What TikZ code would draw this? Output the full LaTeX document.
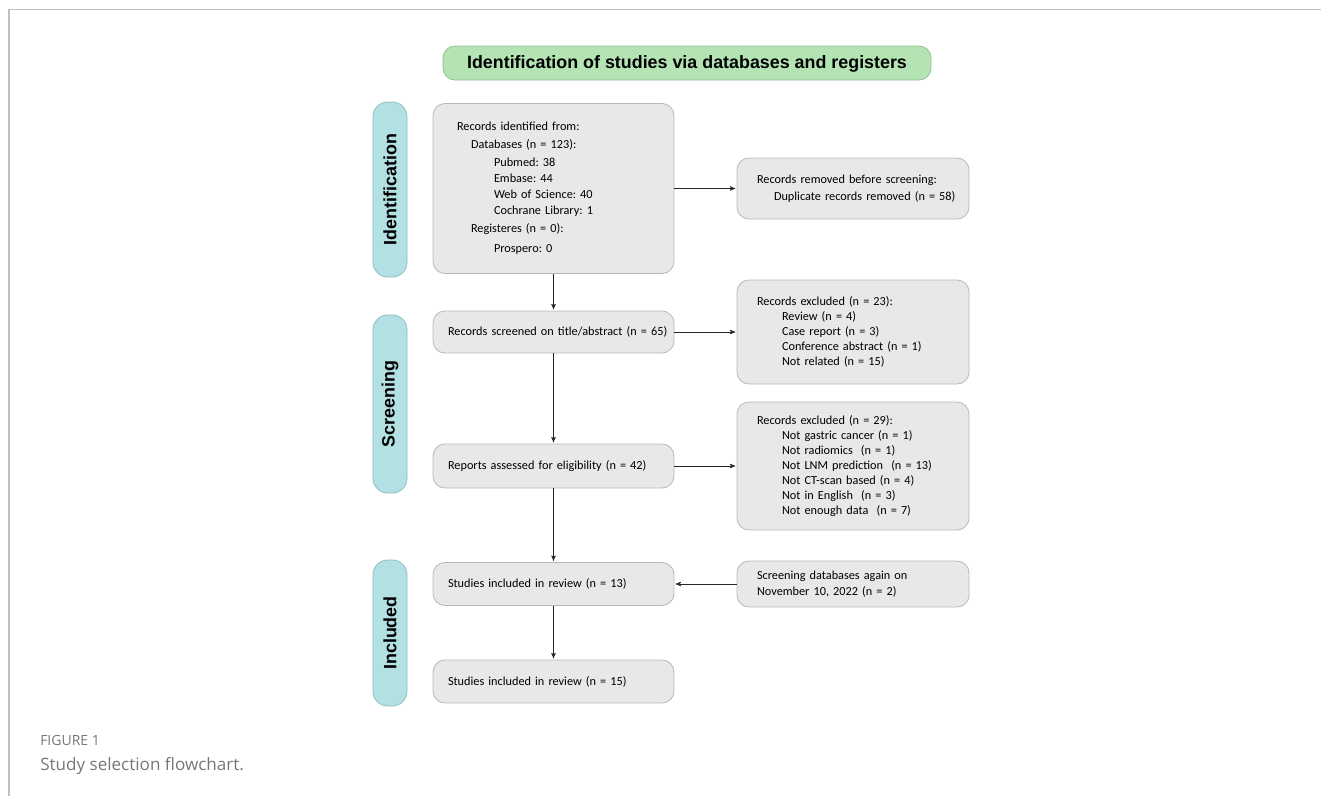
\documentclass[tikz,border=0pt]{standalone}
\usepackage{fontspec}
\setmainfont{Carlito}
\newfontfamily\headfont{Liberation Sans}
\newfontfamily\capfont{Open Sans}
\usepackage{tikz}
\usetikzlibrary{arrows,calc,positioning}

\definecolor{boxfill}{HTML}{E8E8E8}
\definecolor{boxline}{HTML}{B8B8B8}
\definecolor{tealfill}{HTML}{B3E0E2}
\definecolor{tealline}{HTML}{8FBFC0}
\definecolor{greenfill}{HTML}{B4E3B4}
\definecolor{greenline}{HTML}{93BF93}
\definecolor{capgray}{HTML}{777777}

\tikzset{
  mainbox/.style={draw=boxline, fill=boxfill, rounded corners=9pt, line width=0.6pt,
    minimum width=180.75pt, inner xsep=11.25pt, text width=158.25pt, align=left,
    font=\fontsize{9.2}{12}\selectfont},
  sidebox/.style={draw=boxline, fill=boxfill, rounded corners=9pt, line width=0.6pt,
    minimum width=174pt, inner xsep=15pt, text width=144pt, align=left,
    font=\fontsize{9.2}{11.25}\selectfont},
  stagebox/.style={draw=tealline, fill=tealfill, rounded corners=11pt, line width=0.6pt,
    rotate=90, minimum height=25.5pt, font=\headfont\bfseries\fontsize{13.4}{16}\selectfont},
  titlebox/.style={draw=greenline, fill=greenfill, rounded corners=9pt, line width=0.6pt,
    minimum width=366pt, minimum height=25.5pt, text depth=1pt,
    font=\headfont\bfseries\fontsize{13.4}{16}\selectfont}
}
\frenchspacing

\begin{document}
\begin{tikzpicture}[x=0.75pt,y=-0.75pt,>=stealth',shorten >=1pt]
\useasboundingbox (0,0) rectangle (1322,796);
% frame
\draw[black!25,line width=0.8pt] (9,796) -- (9,9.5) -- (1322,9.5);

\node[titlebox] (title) at (687,63) {Identification of studies via databases and registers};

% stages
\node[stagebox,minimum width=131.25pt] (s_id) at (390,189.5) {Identification};
\node[stagebox,minimum width=133.5pt] (s_scr) at (390,404) {Screening};
\node[stagebox,minimum width=109.5pt] (s_inc) at (390,633) {Included};

% main column
\node[mainbox,minimum height=127.5pt,inner xsep=18pt,text width=144.75pt] (ident) at (553.5,188.5) {Records identified from:\\[1.5pt]
\hspace*{10.5pt}Databases (n = 123):\\[1.5pt]
\hspace*{27.75pt}Pubmed: 38\\
\hspace*{27.75pt}Embase: 44\\
\hspace*{27.75pt}Web of Science: 40\\
\hspace*{27.75pt}Cochrane Library: 1\\[1.5pt]
\hspace*{10.5pt}Registeres (n = 0):\\[3pt]
\hspace*{27.75pt}Prospero: 0};
\node[mainbox,minimum height=31.5pt] (screened) at (553.5,332) {\mbox{Records screened on title/abstract (n = 65)}};
\node[mainbox,minimum height=33pt] (assessed) at (553.5,466) {Reports assessed for eligibility (n = 42)};
\node[mainbox,minimum height=32.25pt] (incl_a) at (553.5,584) {Studies included in review (n = 13)};
\node[mainbox,minimum height=32.25pt] (incl_b) at (553.5,681.5) {Studies included in review (n = 15)};

% side column
\node[sidebox,minimum height=45.75pt,font=\fontsize{9.2}{12.75}\selectfont] (removed) at (853,188.5) {Records removed before screening:\\
\hspace*{12.75pt}\mbox{Duplicate records removed (n = 58)}};
\node[sidebox,minimum height=78pt] (excl_a) at (853,332) {Records excluded (n = 23):\\
\hspace*{18.75pt}Review (n = 4)\\
\hspace*{18.75pt}Case report (n = 3)\\
\hspace*{18.75pt}Conference abstract (n = 1)\\
\hspace*{18.75pt}Not related (n = 15)};
\node[sidebox,minimum height=96pt] (excl_b) at (853,466) {Records excluded (n = 29):\\
\hspace*{18.75pt}Not gastric cancer (n = 1)\\
\hspace*{18.75pt}Not radiomics~ (n = 1)\\
\hspace*{18.75pt}Not LNM prediction~ (n = 13)\\
\hspace*{18.75pt}Not CT-scan based (n = 4)\\
\hspace*{18.75pt}Not in English~ (n = 3)\\
\hspace*{18.75pt}Not enough data~ (n = 7)};
\node[sidebox,minimum height=34.5pt,font=\fontsize{9.2}{12}\selectfont] (again) at (853,584) {Screening databases again on\\
November 10, 2022 (n = 2)};

\path[->,color=black!85,line width=0.5pt]
  (ident) edge (screened)
  (screened) edge (assessed)
  (assessed) edge (incl_a)
  (incl_a) edge (incl_b)
  (ident.east) edge (ident.east -| removed.west)
  (screened.east) edge (screened.east -| excl_a.west)
  (assessed.east) edge (assessed.east -| excl_b.west)
  (again.west) edge (incl_a.east);

% caption
\node[anchor=west,inner sep=0pt,text=capgray,font=\capfont\fontsize{10.5}{12}\selectfont] (figno) at (40,740) {FIGURE 1};
\node[anchor=west,inner sep=0pt,text=capgray,font=\capfont\fontsize{12.8}{15}\selectfont] (figcap) at (40,766) {Study selection flowchart.};
\end{tikzpicture}
\end{document}
